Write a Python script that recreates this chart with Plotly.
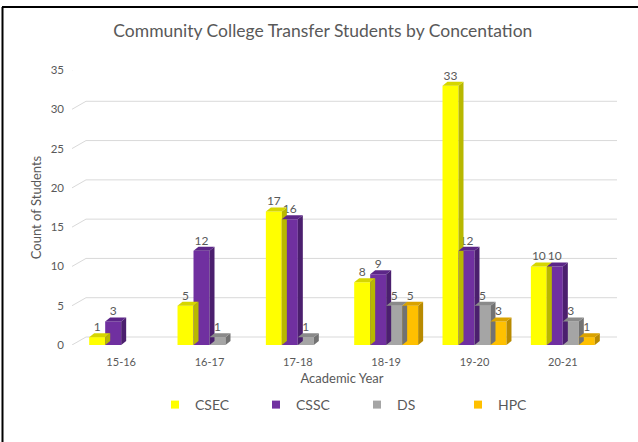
import plotly.graph_objects as go

years = ["15-16", "16-17", "17-18", "18-19", "19-20", "20-21"]
series = ["CSEC", "CSSC", "DS", "HPC"]
csec = [1, 5, 17, 8, 33, 10]
cssc = [3, 12, 16, 9, 12, 10]
ds = [None, 1, 1, 5, 5, 3]
hpc = [None, None, None, 5, 3, 1]
values = [csec, cssc, ds, hpc]
y_ticks = [0, 5, 10, 15, 20, 25, 30, 35]

front = ["#FFFF00", "#7030A0", "#A5A5A5", "#FFC000"]
side = ["#B8B800", "#4B1F6E", "#727272", "#B88A00"]
top = ["#D6D600", "#5C2688", "#8A8A8A", "#D9A200"]

W, H = 638, 442
ml, mr, mt, mb = 77, 31, 70, 97
pw = W - ml - mr
ph = H - mt - mb
ymax = 35
px_per_unit = ph / ymax
cat_px = pw / 6.0

bargap = 0.276
bw = (1 - bargap) / 4.0
dx = 5.0 / cat_px
dy = 4.0 / px_per_unit

fig = go.Figure()
xs = list(range(len(years)))
for i, (name, vals) in enumerate(zip(series, values)):
    fig.add_trace(go.Bar(
        x=xs, y=vals, name=name, marker=dict(color=front[i], line=dict(width=0)),
        text=["" if v is None else str(v) for v in vals],
        textposition="outside", cliponaxis=False,
        textfont=dict(family="Lato", size=12, color="#595959"),
        showlegend=False, hoverinfo="skip"))
    fig.add_trace(go.Scatter(
        x=[None], y=[None], mode="markers", name=name,
        marker=dict(symbol="square", size=8, color=front[i]), showlegend=True))

shapes = []
# gridlines with 3D depth
def xp(px):
    return (px - ml) / pw
gdy = 8.0 / px_per_unit
for t in y_ticks:
    shapes.append(dict(type="path", xref="paper", yref="y",
                       path=f"M{xp(72)},{t} L{xp(86)},{t + gdy} L{xp(617)},{t + gdy}",
                       line=dict(color="#D9D9D9", width=1), layer="below"))

# 3D faces of bars
for i, vals in enumerate(values):
    for j, v in enumerate(vals):
        if v is None:
            continue
        x0 = j - (1 - bargap) / 2 + i * bw
        x1 = x0 + bw
        shapes.append(dict(type="path", xref="x", yref="y",
                           path=f"M{x1},0 L{x1 + dx},{dy} L{x1 + dx},{v + dy} L{x1},{v} Z",
                           fillcolor=side[i], line=dict(width=0)))
        shapes.append(dict(type="path", xref="x", yref="y",
                           path=f"M{x0},{v} L{x0 + dx},{v + dy} L{x1 + dx},{v + dy} L{x1},{v} Z",
                           fillcolor=top[i], line=dict(width=0)))

# outer frame lines (top and left)
shapes.append(dict(type="line", xref="paper", yref="paper",
                   x0=xp(2), x1=xp(640), y0=1 + (mt - 7) / ph, y1=1 + (mt - 7) / ph,
                   line=dict(color="black", width=2)))
shapes.append(dict(type="line", xref="paper", yref="paper",
                   x0=xp(2.5), x1=xp(2.5), y0=1 + (mt - 7) / ph, y1=-(mb + 5) / ph,
                   line=dict(color="black", width=2)))

fig.update_layout(
    width=W, height=H,
    margin=dict(l=ml, r=mr, t=mt, b=mb),
    paper_bgcolor="white", plot_bgcolor="white",
    barmode="group", bargap=bargap, bargroupgap=0,
    font=dict(family="Lato", color="#595959"),
    title=dict(text="Community College Transfer Students by Concentation",
               x=0.506, xref="container", xanchor="center",
               y=1 - 31 / H, yref="container", yanchor="middle",
               font=dict(family="Lato", size=17.5, color="#595959")),
    xaxis=dict(tickmode="array", tickvals=xs, ticktext=years, range=[-0.5, 5.5],
               showgrid=False, zeroline=False, showline=False, ticks="",
               ticklabelstandoff=9,
               tickfont=dict(size=11, color="#595959"),
               title=dict(text="Academic Year", font=dict(size=13, color="#595959"), standoff=6)),
    yaxis=dict(range=[0, ymax], tickvals=y_ticks, showgrid=False, zeroline=False,
               showline=False, ticks="", ticklabelstandoff=12,
               tickfont=dict(size=11.5, color="#595959"),
               title=dict(text="Count of Students", font=dict(size=13, color="#595959"), standoff=6)),
    legend=dict(orientation="h", x=xp(155), xanchor="left", y=-(405 - mt - ph) / ph, yanchor="middle",
                entrywidth=56, entrywidthmode="pixels",
                font=dict(family="Lato", size=14, color="#595959")),
    shapes=shapes,
)

fig.write_html("out.html")
